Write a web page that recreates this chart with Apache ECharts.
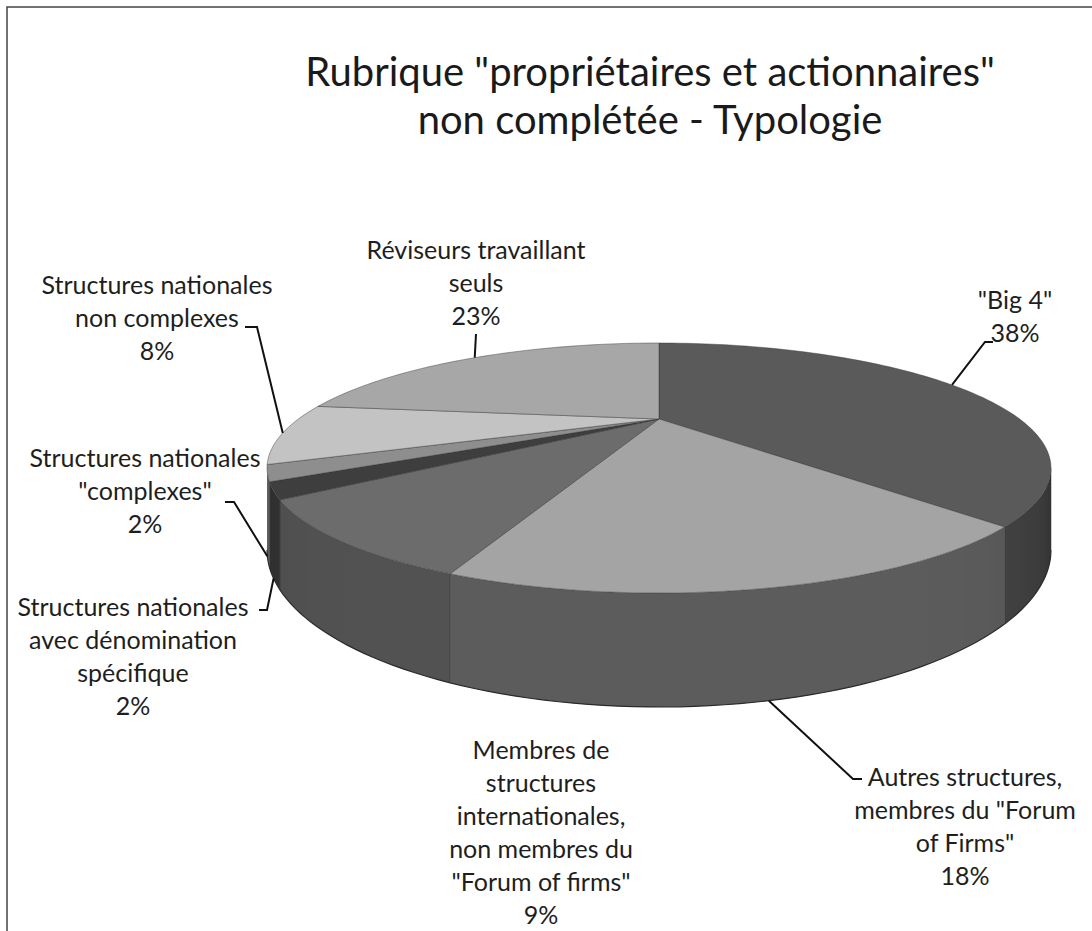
<!DOCTYPE html>
<html>
<head>
<meta charset="utf-8">
<script src="https://cdn.jsdelivr.net/npm/echarts@6/dist/echarts.min.js"></script>
<style>
  html, body { margin: 0; padding: 0; background: #fff; }
  #chart { width: 1092px; height: 931px; }
</style>
</head>
<body>
<div id="chart"></div>
<script>
// data, clockwise from 12 o'clock
var categories = ['"Big 4"', 'Autres structures,\nmembres du "Forum\nof Firms"',
  'Membres de\nstructures\ninternationales,\nnon membres du\n"Forum of firms"',
  'Structures nationales\navec dénomination\nspécifique',
  'Structures nationales\n"complexes"',
  'Structures nationales\nnon complexes',
  'Réviseurs travaillant\nseuls'];
var values = [38, 18, 9, 2, 2, 8, 23];

var topColors = ['#5a5a5a', '#a4a4a4', '#6c6c6c', '#3e3e3e', '#8e8e8e', '#c3c3c3', '#a7a7a7'];
var sideColors = ['#444444', '#5c5c5c', '#525252', '#333333', '#666666', '#858585', '#7a7a7a'];

// label block centres, stub start of leader, and whether the leader hits the bottom rim
var labelPos = [[1015, 315], [965, 825], [541, 831], [133, 655], [145, 490], [157, 317], [476, 282]];
var leaderStart = [[[993, 342], [985, 342]], [[862, 779], [853, 779]], null,
  [[259, 610], [267, 610]], [[225, 502], [234, 502]], [[245, 327], [257, 327]], [[476, 334]]];
var leaderDepth = [0, 1, 0, 1, 1, 0, 0];

var total = values.reduce(function (s, v) { return s + v; }, 0);
var starts = [];
values.reduce(function (acc, v, i) { starts[i] = acc; return acc + v / total * 360; }, 0);

// perspective-ish projection of the disc
var cx = 659, cy = 419, A = 360.6, B = 105.8, persp = 0.392, H = 69.3;
function proj(deg, r, depth) {
  var t = deg * Math.PI / 180;
  var u = r * Math.sin(t), v = r * Math.cos(t);
  var d = 1 + persp * v;
  return [cx + A * u / d, cy - B * v / d + depth * H / d];
}
var silL = Math.acos(-persp) * 180 / Math.PI;   // visible wall from silL to 360-silL
var silR = 360 - silL;

function shade(hex, f) {
  var n = parseInt(hex.slice(1), 16);
  var r = Math.round(((n >> 16) & 255) * f), g = Math.round(((n >> 8) & 255) * f), b = Math.round((n & 255) * f);
  return 'rgb(' + r + ',' + g + ',' + b + ')';
}
function wallFactor(deg) {
  var s = Math.sin(deg * Math.PI / 180);
  return 1 - 0.45 * Math.pow(Math.max(0, s), 6) - 0.15 * Math.pow(Math.max(0, -s), 6);
}

function renderWall(params, api) {
  var i = params.dataIndex;
  var t0 = Math.max(starts[i], silL);
  var t1 = Math.min(starts[i] + api.value(1) / total * 360, silR);
  if (t1 <= t0) return { type: 'group', children: [] };
  var steps = Math.max(2, Math.ceil((t1 - t0) / 1.5));
  var top = [], bottom = [], angles = [];
  for (var k = 0; k <= steps; k++) {
    var a = t0 + (t1 - t0) * k / steps;
    angles.push(a);
    top.push(proj(a, 1, 0));
    bottom.push(proj(a, 1, 1));
  }
  var xs = top.map(function (p) { return p[0]; });
  var minX = Math.min.apply(null, xs), maxX = Math.max.apply(null, xs);
  var stops = angles.map(function (a, k) {
    return { offset: maxX > minX ? (xs[k] - minX) / (maxX - minX) : 0, color: shade(sideColors[i], wallFactor(a)) };
  }).sort(function (p, q) { return p.offset - q.offset; });
  var children = [{
    type: 'polygon',
    shape: { points: top.concat(bottom.slice().reverse()) },
    style: { fill: new echarts.graphic.LinearGradient(0, 0, 1, 0, stops), stroke: 'none' }
  }, {
    type: 'polyline',
    shape: { points: [top[0], bottom[0]] },
    style: { fill: 'none', stroke: 'rgba(40,40,40,0.5)', lineWidth: 1 }
  }, {
    type: 'polyline',
    shape: { points: bottom },
    style: { fill: 'none', stroke: '#2a2a2a', lineWidth: 1.2 }
  }];
  return { type: 'group', children: children };
}

function renderTop(params, api) {
  var i = params.dataIndex;
  var v = api.value(1);
  var t0 = starts[i], t1 = starts[i] + v / total * 360;
  var pts = [[cx, cy]];
  var steps = Math.max(2, Math.ceil((t1 - t0) / 1.5));
  for (var k = 0; k <= steps; k++) pts.push(proj(t0 + (t1 - t0) * k / steps, 1, 0));
  var children = [{
    type: 'polygon',
    shape: { points: pts },
    style: { fill: topColors[i], stroke: 'rgba(50,50,50,0.55)', lineWidth: 0.8, lineJoin: 'round' }
  }];
  var mid = (t0 + t1) / 2;
  if (leaderStart[i]) {
    var lp = leaderStart[i].slice();
    lp.push(proj(mid, 1, leaderDepth[i]));
    children.push({
      type: 'polyline', z2: 10,
      shape: { points: lp },
      style: { fill: 'none', stroke: '#111', lineWidth: 2 }
    });
  }
  children.push({
    type: 'text', z2: 20,
    x: labelPos[i][0], y: labelPos[i][1],
    style: {
      text: categories[i] + '\n' + Math.round(v / total * 100) + '%',
      fontFamily: 'Lato', fontSize: 25, lineHeight: 33,
      align: 'center', verticalAlign: 'middle', fill: '#1e1e1e'
    }
  });
  return { type: 'group', children: children };
}

var seriesData = values.map(function (v, i) { return { name: categories[i], value: [i, v] }; });

var chart = echarts.init(document.getElementById('chart'), null, { renderer: 'svg' });
var option = {
  backgroundColor: '#ffffff',
  animation: false,
  title: {
    text: 'Rubrique "propriétaires et actionnaires"\nnon complétée - Typologie',
    left: 645, top: 42, textAlign: 'center',
    textStyle: { fontFamily: 'Lato', fontSize: 40, fontWeight: 'normal', color: '#1a1a1a', lineHeight: 48 }
  },
  graphic: [{
    type: 'rect', silent: true, z: -1,
    shape: { x: 7, y: 7, width: 1100, height: 940 },
    style: { fill: 'none', stroke: '#444', lineWidth: 1.5 }
  }],
  series: [
    { type: 'custom', coordinateSystem: 'none', renderItem: renderWall, data: seriesData, z: 1 },
    { type: 'custom', coordinateSystem: 'none', renderItem: renderTop, data: seriesData, z: 2 }
  ]
};
chart.setOption(option);
</script>
</body>
</html>
